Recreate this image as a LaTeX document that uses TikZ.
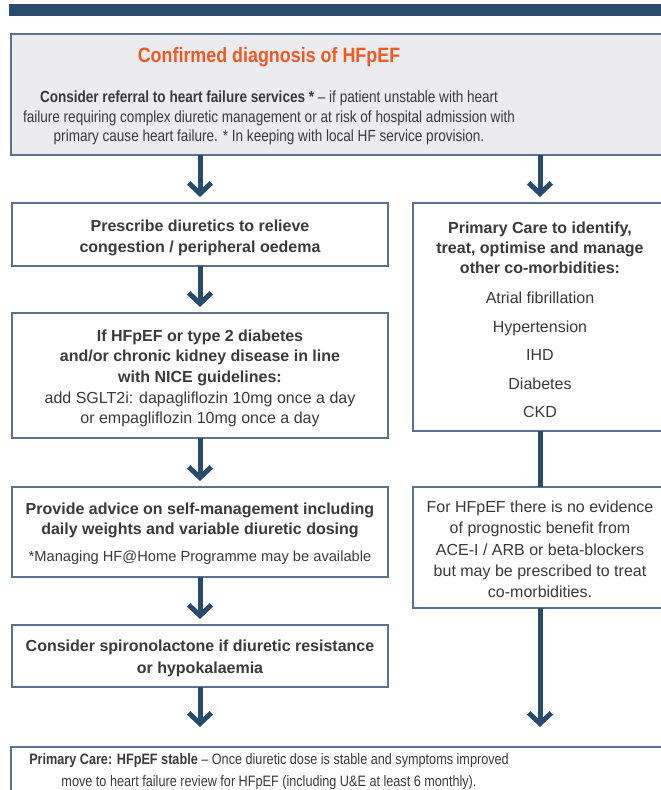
\documentclass[tikz,border=0pt]{standalone}
\usepackage{fontspec}
\setmainfont{Liberation Sans}
\newfontfamily\narrowfont[FakeStretch=0.84]{Liberation Sans}
\newfontfamily\titlefont[FakeStretch=0.86]{Liberation Sans}
\usetikzlibrary{arrows.meta,fit}
\definecolor{navy}{HTML}{284B6E}
\definecolor{boxline}{HTML}{58728F}
\definecolor{topfill}{HTML}{ECECF0}
\definecolor{titleorange}{HTML}{EE5A22}
\definecolor{textc}{HTML}{3A3A3A}
\tikzset{
  box/.style={draw=boxline, line width=1.5pt, inner sep=0pt, outer sep=0pt, fill=white},
  txt/.style={align=center, inner sep=0pt, text=textc},
  arr/.style={draw=navy, line width=3.75pt, -{Straight Barb[length=8pt,width=17pt]}},
  link/.style={draw=navy, line width=3.75pt}
}
\begin{document}
\begin{tikzpicture}[x=0.75pt,y=-0.75pt]
\useasboundingbox (0,0) rectangle (661,790);
\clip (0,0) rectangle (661,790);
% top bar
\fill[navy] (9,4) rectangle (700,16);
% boxes
\coordinate (tA) at (11,34); \coordinate (tB) at (690,155);
\node[box, fill=topfill, fit=(tA)(tB)] (top) {};
\coordinate (b1A) at (12,203); \coordinate (b1B) at (388,266);
\node[box, fit=(b1A)(b1B)] (b1) {};
\coordinate (b2A) at (12,313); \coordinate (b2B) at (388,438);
\node[box, fit=(b2A)(b2B)] (b2) {};
\coordinate (b3A) at (12,487); \coordinate (b3B) at (388,577);
\node[box, fit=(b3A)(b3B)] (b3) {};
\coordinate (b4A) at (12,625); \coordinate (b4B) at (388,687);
\node[box, fit=(b4A)(b4B)] (b4) {};
\coordinate (rAA) at (413,203); \coordinate (rAB) at (667,431);
\node[box, fit=(rAA)(rAB)] (rA) {};
\coordinate (rBA) at (413,487); \coordinate (rBB) at (667,608);
\node[box, fit=(rBA)(rBB)] (rB) {};
\coordinate (btA) at (11,747); \coordinate (btB) at (690,820);
\node[box, fit=(btA)(btB)] (bot) {};
% texts
\node[txt, text=titleorange, font=\titlefont\bfseries\fontsize{15.6}{18}\selectfont] (title) at (269,57) {Confirmed diagnosis of HFpEF};
\node[txt, font=\narrowfont\fontsize{12.1}{14.6}\selectfont] (topt) at (269,118) {\textbf{Consider referral to heart failure services *} – if patient unstable with heart\\failure requiring complex diuretic management or at risk of hospital admission with\\primary cause heart failure. * In keeping with local HF service provision.};
\node[txt, font=\bfseries\fontsize{12}{15.75}\selectfont] (t1) at (200,237.5) {Prescribe diuretics to relieve\\congestion / peripheral oedema};
\node[txt, font=\fontsize{12}{15.5}\selectfont] (t2) at (200,378.5) {\textbf{If HFpEF or type 2 diabetes}\\\textbf{and/or chronic kidney disease in line}\\\textbf{with NICE guidelines:}\\add SGLT2i: dapagliflozin 10mg once a day\\or empagliflozin 10mg once a day};
\node[txt, font=\bfseries\fontsize{12}{15}\selectfont] (t3) at (200,520) {Provide advice on self-management including\\daily weights and variable diuretic dosing};
\node[txt, font=\fontsize{11}{13}\selectfont] (t3b) at (200,558) {*Managing HF@Home Programme may be available};
\node[txt, font=\bfseries\fontsize{12}{16.5}\selectfont] (t4) at (200,658) {Consider spironolactone if diuretic resistance\\or hypokalaemia};
\node[txt, font=\bfseries\fontsize{12}{15}\selectfont] (tA1) at (540,248) {Primary Care to identify,\\treat, optimise and manage\\other co-morbidities:};
\node[txt, font=\fontsize{12}{21.4}\selectfont] (tA2) at (540,355) {Atrial fibrillation\\Hypertension\\IHD\\Diabetes\\CKD};
\node[txt, font=\fontsize{12}{16}\selectfont] (tB) at (540,549.5) {For HFpEF there is no evidence\\of prognostic benefit from\\ACE-I / ARB or beta-blockers\\but may be prescribed to treat\\co-morbidities.};
\node[txt, font=\narrowfont\fontsize{11.3}{16.5}\selectfont] (tbot) at (269,771.5) {\textbf{Primary Care: HFpEF stable} – Once diuretic dose is stable and symptoms improved\\move to heart failure review for HFpEF (including U\&E at least 6 monthly).};
% connectors
\coordinate (tL) at (top.south -| b1.north);
\coordinate (tR) at (top.south -| rA.north);
\draw[arr] (tL) -- ([yshift=4.5pt]b1.north);
\draw[arr] (tR) -- ([yshift=4.5pt]rA.north);
\draw[arr] (b1) -- ([yshift=4.5pt]b2.north);
\draw[arr] (b2) -- ([yshift=4.5pt]b3.north);
\draw[arr] (b3) -- ([yshift=4.5pt]b4.north);
\draw[arr] (b4) -- ([yshift=15pt]bot.north -| b4.south);
\draw[link] (rA) -- (rB);
\draw[arr] (rB) -- ([yshift=15pt]bot.north -| rB.south);
\end{tikzpicture}
\end{document}
